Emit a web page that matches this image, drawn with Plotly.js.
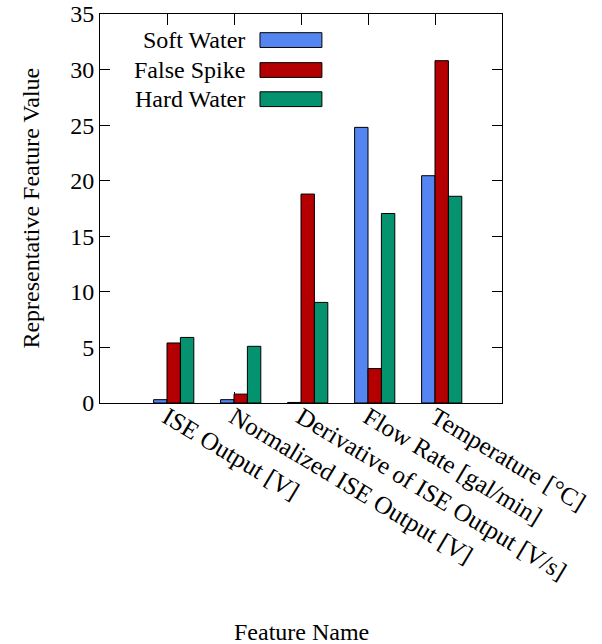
<!DOCTYPE html>
<html>
<head>
<meta charset="utf-8">
<script src="https://cdn.plot.ly/plotly-3.0.1.min.js"></script>
<style>html,body{margin:0;padding:0;background:#fff;}#chart{width:602px;height:644px;}</style>
</head>
<body>
<div id="chart"></div>
<script>
var categories = ["ISE Output [V]", "Normalized ISE Output [V]", "Derivative of ISE Output [V/s]", "Flow Rate [gal/min]", "Temperature [°C]"];
var softWater = [0.3, 0.3, 0.05, 24.8, 20.45];
var falseSpike = [5.4, 0.8, 18.8, 3.1, 30.8];
var hardWater = [5.9, 5.1, 9.05, 17.05, 18.6];
var seriesNames = ["Soft Water", "False Spike", "Hard Water"];
var seriesColors = ["#5585f0", "#b40000", "#05936f"];
var seriesValues = [softWater, falseSpike, hardWater];
var yTicks = [0, 5, 10, 15, 20, 25, 30, 35];

var FONT = "'Liberation Serif', 'Times New Roman', serif";
var offsets = [-0.2, 0, 0.2];
var traces = seriesValues.map(function (vals, i) {
  return {
    type: "bar",
    name: seriesNames[i],
    x: categories,
    y: vals,
    width: 0.2,
    offset: offsets[i],
    marker: {color: seriesColors[i], line: {color: "#000", width: 1}},
    showlegend: false,
    hoverinfo: "none"
  };
});

var shapes = [], annotations = [];
var rowY = [0.933, 0.856, 0.781];
seriesNames.forEach(function (n, i) {
  shapes.push({type: "rect", xref: "paper", yref: "paper",
    x0: 0.398, x1: 0.552, y0: rowY[i] - 0.019, y1: rowY[i] + 0.019,
    fillcolor: seriesColors[i], line: {color: "#000", width: 1}});
  annotations.push({xref: "paper", yref: "paper", x: 0.366, y: rowY[i],
    xanchor: "right", yanchor: "middle", text: n, showarrow: false,
    font: {family: FONT, size: 24, color: "#000"}});
});
annotations.push({xref: "paper", yref: "paper", x: -0.174, y: 0.5, textangle: -90,
  xanchor: "center", yanchor: "middle", text: "Representative Feature Value", showarrow: false,
  font: {family: FONT, size: 24, color: "#000"}});
annotations.push({xref: "paper", yref: "paper", x: 0.5, y: -0.589,
  xanchor: "center", yanchor: "middle", text: "Feature Name", showarrow: false,
  font: {family: FONT, size: 24, color: "#000"}});

var layout = {
  width: 602, height: 644,
  margin: {l: 100, r: 100, t: 14, b: 241, pad: 0},
  paper_bgcolor: "#fff", plot_bgcolor: "#fff",
  barmode: "overlay",
  showlegend: false,
  font: {family: FONT, size: 24, color: "#000"},
  xaxis: {
    type: "category", range: [-1, 5], categoryorder: "array", categoryarray: categories,
    showline: true, linecolor: "#000", linewidth: 1, mirror: "ticks",
    ticks: "inside", ticklen: 11, tickcolor: "#000", tickwidth: 1,
    tickangle: 31, showgrid: false, zeroline: false, layer: "below traces",
    ticklabelstandoff: -11,
    tickfont: {family: FONT, size: 25, color: "#000"}, automargin: false
  },
  yaxis: {
    range: [0, 35], tickvals: yTicks, ticktext: yTicks.map(String),
    showline: true, linecolor: "#000", linewidth: 1, mirror: "ticks",
    ticks: "inside", ticklen: 10, tickcolor: "#000", tickwidth: 1,
    showgrid: false, zeroline: false, layer: "below traces",
    tickfont: {family: FONT, size: 24, color: "#000"}, automargin: false
  },
  shapes: shapes,
  annotations: annotations
};

Plotly.newPlot("chart", traces, layout, {staticPlot: true, displayModeBar: false});
</script>
</body>
</html>
